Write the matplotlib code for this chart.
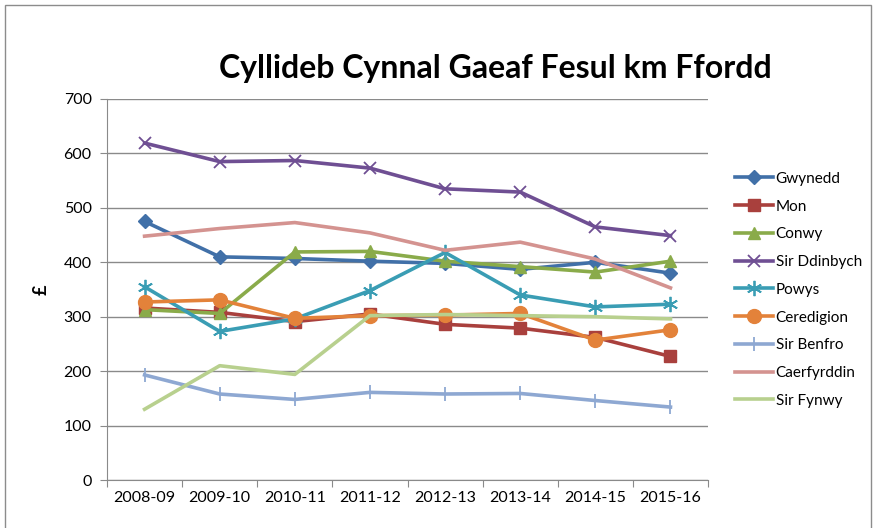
import matplotlib
matplotlib.use("Agg")
import matplotlib.pyplot as plt
from matplotlib.patches import Rectangle

plt.rcParams['font.family'] = ['Lato', 'DejaVu Sans']

years = ['2008-09', '2009-10', '2010-11', '2011-12', '2012-13', '2013-14', '2014-15', '2015-16']

gwynedd = [475, 410, 407, 402, 398, 387, 400, 380]
mon = [316, 308, 291, 305, 286, 279, 262, 227]
conwy = [313, 306, 419, 420, 402, 392, 382, 402]
sir_ddinbych = [619, 585, 587, 573, 535, 529, 465, 449]
powys = [355, 273, 296, 348, 418, 340, 318, 323]
ceredigion = [327, 331, 297, 302, 303, 306, 257, 276]
sir_benfro = [193, 158, 148, 161, 158, 159, 146, 134]
caerfyrddin = [448, 462, 473, 454, 422, 437, 406, 353]
sir_fynwy = [130, 210, 194, 302, 304, 302, 300, 296]

series = [
    ('Gwynedd', gwynedd, '#4170A8', 'D', 7),
    ('Mon', mon, '#A9403D', 's', 8),
    ('Conwy', conwy, '#8AAB4A', '^', 9),
    ('Sir Ddinbych', sir_ddinbych, '#6F4F93', 'x', 9),
    ('Powys', powys, '#3A9DB4', (6, 2, 0), 11),
    ('Ceredigion', ceredigion, '#E3823A', 'o', 10),
    ('Sir Benfro', sir_benfro, '#8EA8D2', '|', 10),
    ('Caerfyrddin', caerfyrddin, '#D49390', None, 0),
    ('Sir Fynwy', sir_fynwy, '#B8D08E', None, 0),
]

fig = plt.figure(figsize=(8.8, 5.28), dpi=100)
fig.patches.append(Rectangle((0.006, -0.01), 0.984, 1.0, transform=fig.transFigure,
                             fill=False, edgecolor='#8c8c8c', lw=1))
ax = fig.add_axes([0.1216, 0.0909, 0.683, 0.7216])

x = list(range(len(years)))
for name, vals, col, mk, ms in series:
    ax.plot(x, vals, color=col, lw=2.6, marker=mk, markersize=ms,
            markeredgewidth=1.3 if mk in ('x', (6, 2, 0), '|') else 1,
            markerfacecolor=col, markeredgecolor=col, label=name)

ax.set_xlim(-0.5, 7.5)
ax.set_ylim(0, 700)
ax.set_yticks(range(0, 701, 100))
ax.yaxis.grid(True, color='#8a8a8a', lw=1)
ax.set_axisbelow(True)
ax.set_xticks([i - 0.5 for i in range(9)])
ax.set_xticklabels([])
ax.set_xticks(x, minor=True)
ax.set_xticklabels(years, minor=True)
ax.tick_params(axis='x', which='minor', length=0, pad=8, labelsize=11.5)
ax.tick_params(axis='x', which='major', length=5, color='#8a8a8a')
ax.tick_params(axis='y', length=5, color='#8a8a8a', labelsize=11.5, pad=6)
for s in ('top', 'right'):
    ax.spines[s].set_visible(False)
for s in ('left', 'bottom'):
    ax.spines[s].set_color('#8a8a8a')

ax.set_ylabel('£', fontsize=13, fontweight='bold', labelpad=10)
fig.text(0.563, 0.87, 'Cyllideb Cynnal Gaeaf Fesul km Ffordd', ha='center', va='center',
         fontsize=23, fontweight='bold')

ax.legend(loc='upper left', bbox_to_anchor=(1.035, 0.825), frameon=False, fontsize=11,
          handlelength=2.5, handletextpad=0.15, labelspacing=0.9, borderaxespad=0)

fig.savefig('out.png', dpi=100)
